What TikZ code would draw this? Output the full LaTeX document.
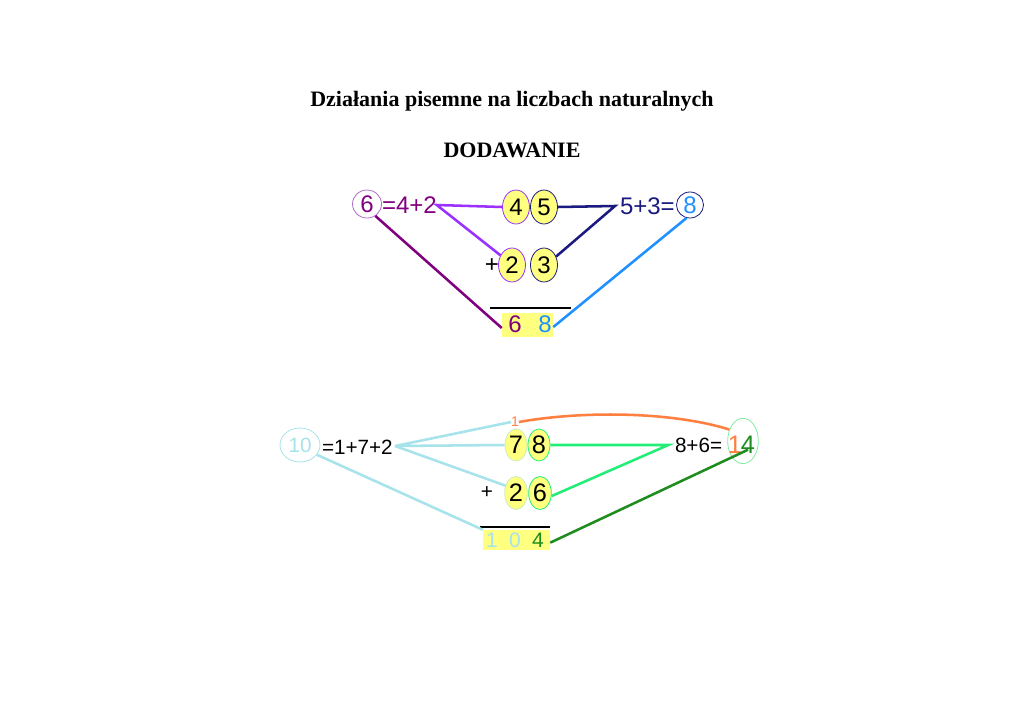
\documentclass[tikz,border=0pt]{standalone}
\usepackage{fontspec}
\setmainfont{Liberation Serif}
\newfontfamily\arialf{Liberation Sans}
\usetikzlibrary{shapes.geometric}
\definecolor{purp}{HTML}{800080}
\definecolor{lpurp}{HTML}{B070C8}
\definecolor{viol}{HTML}{9B30FF}
\definecolor{navyc}{HTML}{1A1A80}
\definecolor{bluec}{HTML}{1E90FF}
\definecolor{yel}{HTML}{FFFF80}
\definecolor{lcyan}{HTML}{A6E3EA}
\definecolor{orng}{HTML}{FF7F40}
\definecolor{sgreen}{HTML}{22EE77}
\definecolor{dgreen}{HTML}{1E8C1E}
\definecolor{lgreen}{HTML}{80EEA0}
\tikzset{
  big/.style={font=\arialf\fontsize{18}{18}\selectfont},
  mid/.style={font=\arialf\fontsize{15.5}{15.5}\selectfont},
  bdig/.style={font=\arialf\fontsize{19}{19}\selectfont},
  txt/.style={inner sep=0pt, outer sep=0pt},
  dig/.style={ellipse, fill=yel, draw, line width=0.6pt, inner sep=0pt},
  ring/.style={ellipse, draw, line width=0.6pt, inner sep=0pt},
  con/.style={line width=1.9pt},
  rule/.style={line width=1.3pt, black},
  ttl/.style={font=\bfseries\fontsize{16.5}{17}\selectfont},
}
\begin{document}
\begin{tikzpicture}[x=0.75pt,y=-0.75pt]
\useasboundingbox (0,0) rectangle (1024,724);
\fill[white] (0,0) rectangle (1024,724);
% titles
\node[ttl] (title) at (512,101) {Działania pisemne na liczbach naturalnych};
\node[ttl] (sub) at (512,150) {DODAWANIE};

% ---------- top example ----------
\node[ring, draw=lpurp, minimum width=21.75pt, minimum height=21pt, big, text=purp] (c6) at (367,204) {6};
\node[txt, big, text=purp, anchor=west] (t1) at (382,205) {=4+2};
\node[dig, draw=viol, minimum width=20.25pt, minimum height=25.5pt, big] (e4) at (516,207) {4};
\node[dig, draw=navyc, minimum width=20.25pt, minimum height=25.5pt, big] (e5) at (544,207) {5};
\node[txt, big, text=navyc, anchor=west] (t2) at (620,206) {5+3=};
\node[ring, draw=navyc, minimum width=20.25pt, minimum height=19.5pt, big, text=bluec] (c8) at (690,205) {8};
\node[txt, big] (p1) at (492,266) {+};
\node[dig, draw=viol, minimum width=20.25pt, minimum height=25.5pt, big] (e2) at (512,265) {2};
\node[dig, draw=navyc, minimum width=20.25pt, minimum height=25.5pt, big] (e3) at (544,265) {3};
\coordinate (r1a) at (490,308);
\coordinate (r1b) at (571,308);
\draw[rule] (r1a) -- (r1b);
\node[fill=yel, minimum width=38.25pt, minimum height=18pt, inner sep=0pt] (res) at (527.5,325) {};
\node[txt, big, text=purp] (r6) at (515,324) {6};
\node[txt, big, text=bluec] (r8) at (545,324) {8};

\draw[con, viol] (e4.west) -- (t1.east) -- (e2.140);
\draw[con, navyc] (e5.east) -- ([xshift=-3.75pt]t2.west) -- (e3.35);
\draw[con, purp] (c6.305) -- ([yshift=-2.25pt]res.west);
\draw[con, bluec] (c8.255) -- ([yshift=-1.5pt]res.east);

% ---------- bottom example ----------
\node[ring, draw=lcyan, minimum width=30pt, minimum height=25.5pt, mid, text=lcyan] (c10) at (300,445) {10};
\node[txt, mid, anchor=west] (t3) at (322,447) {=1+7+2};
\node[txt, text=orng, font=\arialf\fontsize{10.5}{11}\selectfont] (o1) at (515,422) {1};
\node[dig, draw=lcyan!60!yel, minimum width=16.5pt, minimum height=24pt, bdig] (e7) at (516,445) {7};
\node[dig, draw=sgreen, minimum width=16.5pt, minimum height=24pt, bdig] (e8) at (539,445) {8};
\node[txt, mid, anchor=west] (t4) at (675,445) {8+6=};
\node[ring, draw=lgreen, minimum width=23pt, minimum height=34pt] (c14) at (743,441) {};
\node[txt, text=orng, bdig] (n1) at (735,445) {1};
\node[txt, text=dgreen, bdig] (n4) at (748,445) {4};
\node[txt, mid] (p2) at (487,493) {+};
\node[dig, draw=lcyan!60!yel, minimum width=17pt, minimum height=24.75pt, bdig] (e2b) at (516,493) {2};
\node[dig, draw=sgreen, minimum width=17pt, minimum height=24.75pt, bdig] (e6) at (540,493) {6};
\coordinate (r2a) at (480,527);
\coordinate (r2b) at (550,527);
\draw[rule] (r2a) -- (r2b);
\node[fill=yel, minimum width=50.25pt, minimum height=15pt, inner sep=0pt] (res2) at (516.5,540) {};
\node[txt, font=\arialf\fontsize{15.75}{16}\selectfont, text=lcyan] (b1) at (492,540) {1};
\node[txt, font=\arialf\fontsize{15.75}{16}\selectfont, text=lcyan] (b0) at (515,540) {0};
\node[txt, font=\arialf\fontsize{15.75}{16}\selectfont, text=dgreen] (b4) at (538,540) {4};

\coordinate (hub) at (395,446);
\draw[con, lcyan] (o1.west) -- (hub) -- (e7.west);
\draw[con, lcyan] (hub) -- (e2b.145);
\draw[con, orng] (o1.east) .. controls (580,411) and (670,411) .. (c14.140);
\draw[con, sgreen] (e8.east) -- ([xshift=-5pt]t4.west) -- (e6.345);
\draw[con, lcyan] (c10.330) -- (res2.north west);
\draw[con, dgreen] ([yshift=3pt]n4.south) -- ([yshift=-2pt]res2.east);
\end{tikzpicture}
\end{document}
